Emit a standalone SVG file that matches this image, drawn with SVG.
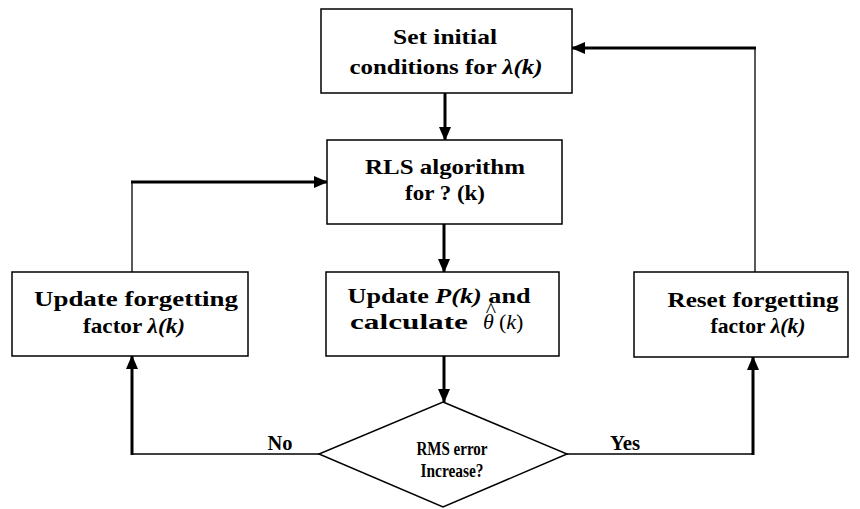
<svg xmlns="http://www.w3.org/2000/svg" width="860" height="509" viewBox="0 0 860 509">
<style>
.box{fill:#fff;stroke:#000;stroke-width:1.5}
.t{font-family:"Liberation Serif","Times New Roman",serif;font-weight:bold;font-size:21px;fill:#000;text-anchor:middle}
.s{font-size:18px}
.thin{fill:none;stroke:#000;stroke-width:1.3}
.thick{fill:none;stroke:#000;stroke-width:3}
.i{font-style:italic}
.m{font-family:"Liberation Serif","Times New Roman",serif;font-size:22px;fill:#000}
</style>
<defs>
<marker id="ah" markerUnits="userSpaceOnUse" markerWidth="14" markerHeight="14" viewBox="0 0 14 14" refX="13" refY="7" orient="auto">
<path d="M0,1 L14,7 L0,13 Z" fill="#000"/>
</marker>
</defs>
<rect width="860" height="509" fill="#fff"/>
<g id="connectors">
<path class="thick" d="M445,93 V140" marker-end="url(#ah)"/>
<path class="thick" d="M444,224 V272" marker-end="url(#ah)"/>
<path class="thick" d="M444,356 V402" marker-end="url(#ah)"/>
<path class="thin" d="M319,454 H132"/>
<path class="thick" d="M132,455 V356" marker-end="url(#ah)"/>
<path class="thin" d="M567,454 H753"/>
<path class="thick" d="M753,455 V357" marker-end="url(#ah)"/>
<path class="thin" d="M132,272 V182"/>
<path class="thick" d="M131,182 H327" stroke-width="2.5" marker-end="url(#ah)"/>
<path class="thin" d="M755,272 V48"/>
<path class="thick" d="M756,48 H572" stroke-width="2.5" marker-end="url(#ah)"/>
<text class="t" x="280" y="450" font-size="17" textLength="25" lengthAdjust="spacingAndGlyphs">No</text>
<text class="t" x="625" y="450" font-size="17" textLength="30" lengthAdjust="spacingAndGlyphs">Yes</text>
</g>
<g id="set-initial">
<rect class="box" x="321" y="9" width="251" height="84"/>
<text class="t" x="445" y="44" textLength="104" lengthAdjust="spacingAndGlyphs">Set initial</text>
<text class="t" x="446" y="74" textLength="193" lengthAdjust="spacingAndGlyphs">conditions for <tspan class="i">λ(k)</tspan></text>
</g>
<g id="rls">
<rect class="box" x="327" y="140" width="235" height="84"/>
<text class="t" x="445" y="174" textLength="160" lengthAdjust="spacingAndGlyphs">RLS algorithm</text>
<text class="t" x="445" y="200" textLength="80" lengthAdjust="spacingAndGlyphs">for ? (k)</text>
</g>
<g id="update-p">
<rect class="box" x="326" y="272" width="233" height="84"/>
<text class="t" x="439" y="303" textLength="183" lengthAdjust="spacingAndGlyphs">Update <tspan class="i">P(k)</tspan> and</text>
<text class="t" x="350" y="329" style="text-anchor:start" textLength="118" lengthAdjust="spacingAndGlyphs">calculate</text>
<text class="m" x="483" y="329" font-style="italic">θ</text>
<text class="m" x="491" y="317" font-size="13" text-anchor="middle">^</text>
<text class="m" x="499" y="329">(<tspan font-style="italic">k</tspan>)</text>
</g>
<g id="update-forgetting">
<rect class="box" x="12" y="272" width="236" height="84"/>
<text class="t" x="136" y="306" textLength="204" lengthAdjust="spacingAndGlyphs">Update forgetting</text>
<text class="t" x="134" y="333" textLength="102" lengthAdjust="spacingAndGlyphs">factor <tspan class="i">λ(k)</tspan></text>
</g>
<g id="reset-forgetting">
<rect class="box" x="634" y="272" width="214" height="85"/>
<text class="t" x="753" y="307" textLength="171" lengthAdjust="spacingAndGlyphs">Reset forgetting</text>
<text class="t" x="758" y="333" textLength="95" lengthAdjust="spacingAndGlyphs">factor <tspan class="i">λ(k)</tspan></text>
</g>
<g id="decision">
<polygon class="box" points="443,402 567,454 443,507 319,454" stroke-width="1.2"/>
<text class="t s" x="452" y="455" textLength="71" lengthAdjust="spacingAndGlyphs">RMS error</text>
<text class="t s" x="452" y="477" textLength="63" lengthAdjust="spacingAndGlyphs">Increase?</text>
</g>
</svg>
